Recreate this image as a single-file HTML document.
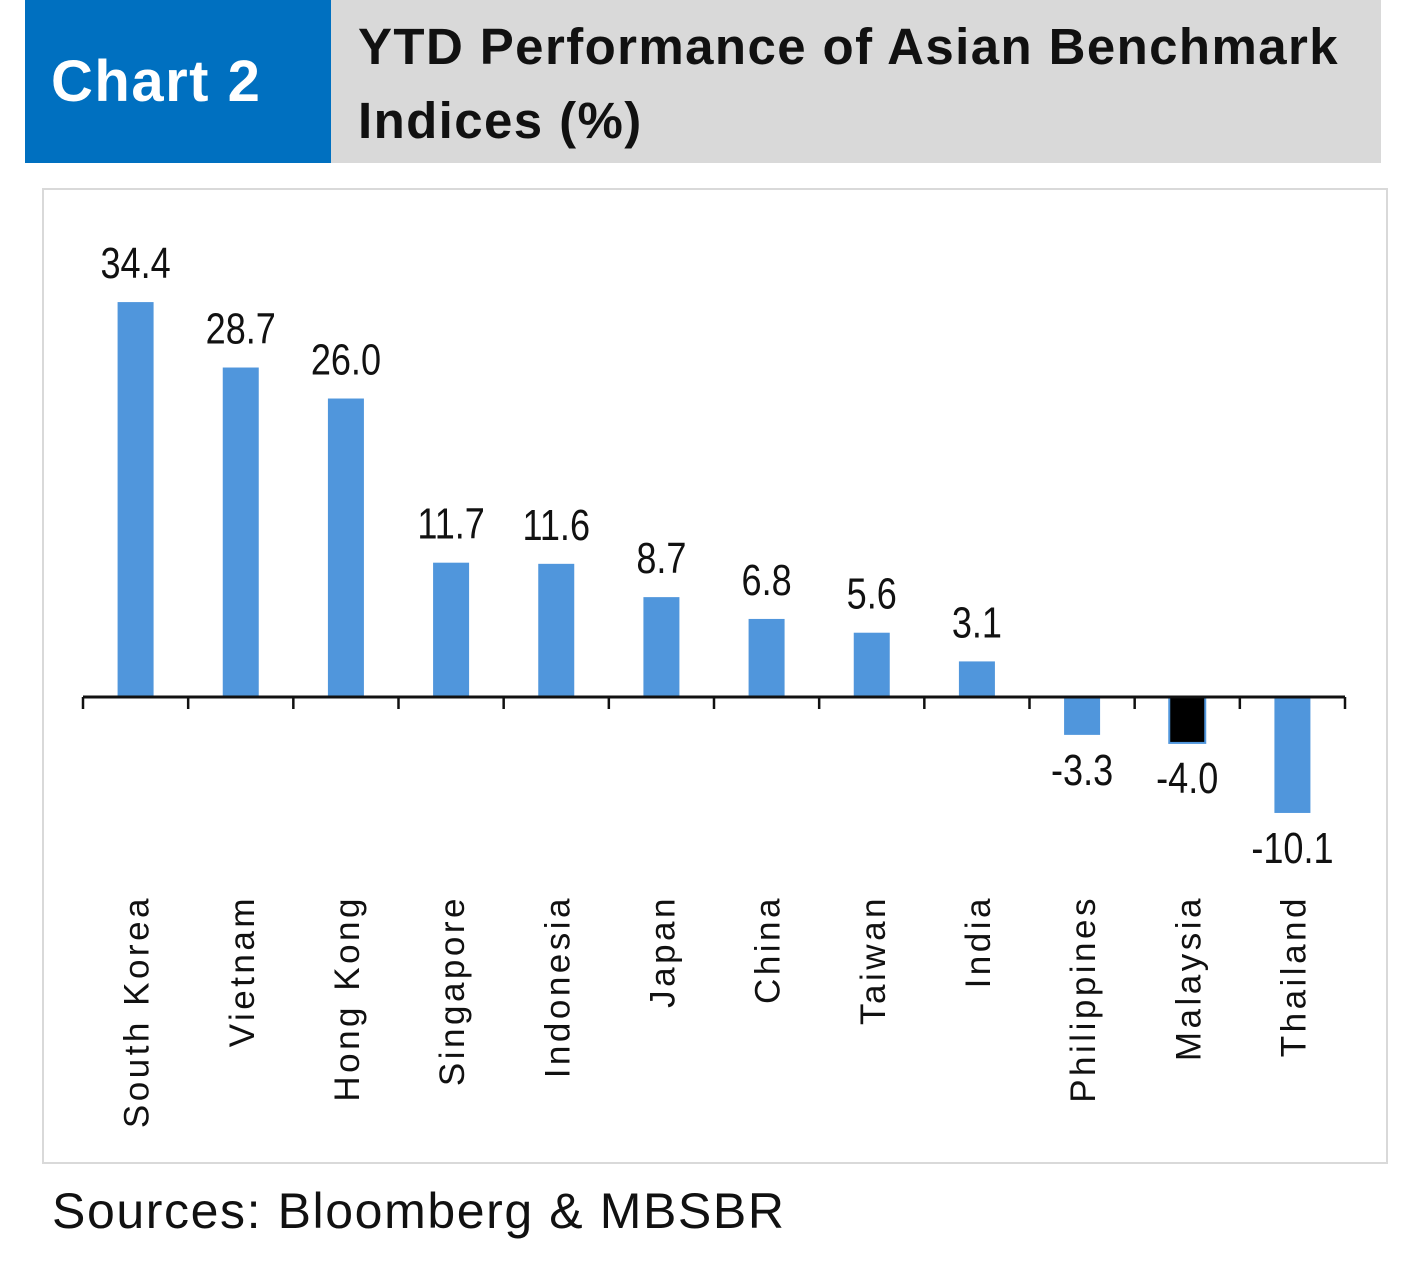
<!DOCTYPE html>
<html><head><meta charset="utf-8"><style>
body{margin:0;background:#fff;width:1404px;height:1277px;overflow:hidden;font-family:"Liberation Sans",sans-serif}
</style></head><body>
<div style="position:absolute;left:25px;top:0;width:306px;height:163px;background:#0070c0;color:#fff;font-weight:bold;font-size:58px;line-height:163px;padding-left:26px;box-sizing:border-box;letter-spacing:1.5px">Chart 2</div>
<div style="position:absolute;left:331px;top:0;width:1050px;height:163px;background:#d9d9d9;color:#111;font-weight:bold;font-size:51px;line-height:74px;padding:10px 0 0 27px;box-sizing:border-box;letter-spacing:1.4px">YTD Performance of Asian Benchmark Indices (%)</div>
<div style="position:absolute;left:42px;top:188px;width:1342px;height:972px;border:2px solid #d9d9d9"></div>
<svg id="chart" width="1404" height="1277" style="position:absolute;left:0;top:0"></svg>
<div style="position:absolute;left:52px;top:1182px;font-size:50px;color:#111;letter-spacing:1.6px">Sources: Bloomberg &amp; MBSBR</div>
<script>
const categories=["South Korea","Vietnam","Hong Kong","Singapore","Indonesia","Japan","China","Taiwan","India","Philippines","Malaysia","Thailand"];
const values=[34.4,28.7,26.0,11.7,11.6,8.7,6.8,5.6,3.1,-3.3,-4.0,-10.1];
const highlight=["Malaysia"];
const NS="http://www.w3.org/2000/svg";
const svg=document.getElementById('chart');
const x0=83,x1=1345,zeroY=697,pxPerUnit=11.48;
const step=(x1-x0)/categories.length;
const xC=i=>x0+step*(i+0.5);
const yV=v=>zeroY-v*pxPerUnit;
function mk(t,a){const e=document.createElementNS(NS,t);for(const k in a)e.setAttribute(k,a[k]);svg.appendChild(e);return e;}
categories.forEach((c,i)=>{
  const v=values[i];const y=Math.min(yV(v),zeroY);const h=Math.abs(yV(v)-zeroY);
  const b=mk('rect',{x:xC(i)-18,y:y,width:36,height:h,fill:highlight.includes(c)?'#000':'#5096dc'});
  if(highlight.includes(c)){b.setAttribute('stroke','#5096dc');b.setAttribute('stroke-width','2');}
  
  
  const ly=v>=0?yV(v)-24:yV(v)+50;
  const g=mk('g',{transform:`translate(${xC(i)} ${ly}) scale(0.82 1)`});
  const t=document.createElementNS(NS,'text');
  t.setAttribute('x',0);t.setAttribute('y',0);t.setAttribute('text-anchor','middle');t.setAttribute('font-size',44);t.setAttribute('fill','#111');
  t.textContent=v.toFixed(1);
  
  
  g.appendChild(t);
  const cx=xC(i)+13;
  const ct=mk('text',{x:cx,y:895,transform:`rotate(-90 ${cx} 895)`,'text-anchor':'end','font-size':35,fill:'#111','letter-spacing':'3.5'});
  ct.textContent=c;
  
  
});
const ax=mk('line',{x1:x0,x2:x1,y1:zeroY,y2:zeroY,stroke:'#111','stroke-width':3});


for(let i=0;i<=categories.length;i++){
  const tk=mk('line',{x1:x0+step*i,x2:x0+step*i,y1:zeroY,y2:zeroY+12,stroke:'#111','stroke-width':2.5});
  
  
}
</script>
</body></html>
